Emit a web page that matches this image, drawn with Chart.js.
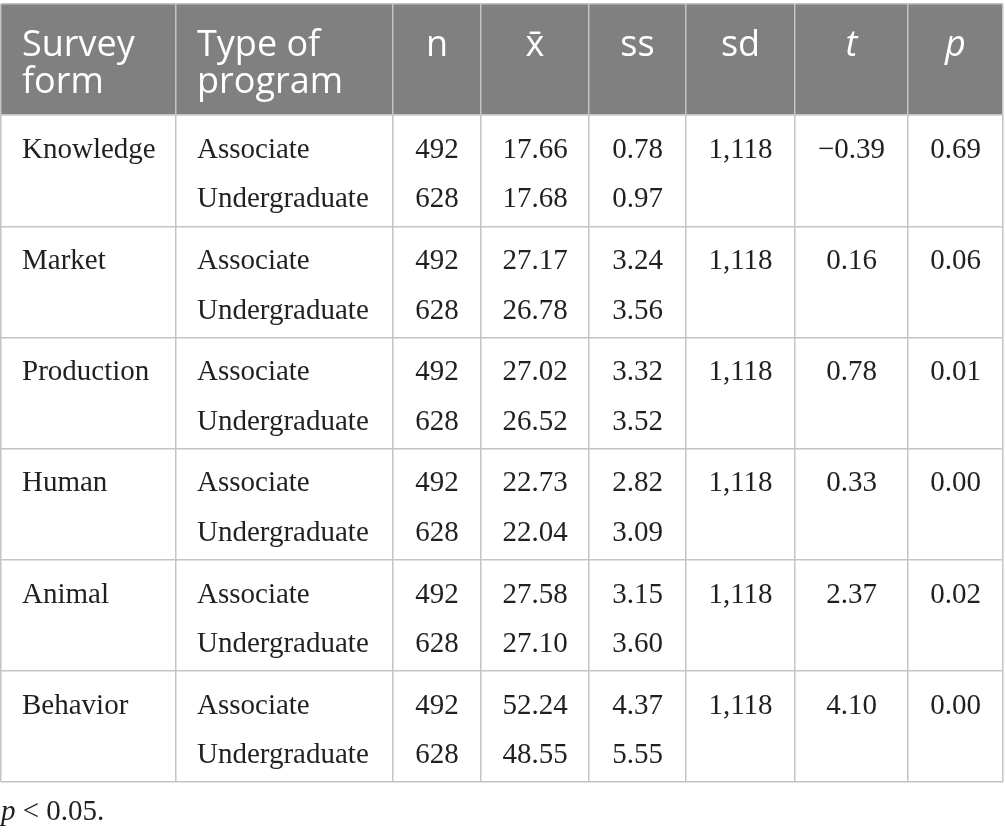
<!DOCTYPE html>
<html>
<head>
    <title>Survey form t-test table</title>
    <script src="https://cdn.jsdelivr.net/npm/chart.js"></script>
    <style>
        html, body { margin: 0; padding: 0; background: #fff; }
    </style>
</head>
<body>
    <div style="width: 1005px; height: 835px;">
        <canvas id="tableChart"></canvas>
    </div>

    <script>
        // table values
        const headers = [['Survey', 'form'], ['Type of', 'program'], ['n'], ['x\u0304'], ['ss'], ['sd'], ['t'], ['p']];
        const forms = ['Knowledge', 'Market', 'Production', 'Human', 'Animal', 'Behavior'];
        const programs = ['Associate', 'Undergraduate'];
        const nValues = [492, 628];
        const meanAssociate = [17.66, 27.17, 27.02, 22.73, 27.58, 52.24];
        const meanUndergrad = [17.68, 26.78, 26.52, 22.04, 27.10, 48.55];
        const ssAssociate = [0.78, 3.24, 3.32, 2.82, 3.15, 4.37];
        const ssUndergrad = [0.97, 3.56, 3.52, 3.09, 3.60, 5.55];
        const sdValues = [1118, 1118, 1118, 1118, 1118, 1118];
        const tValues = [-0.39, 0.16, 0.78, 0.33, 2.37, 4.10];
        const pValues = [0.69, 0.06, 0.01, 0.00, 0.02, 0.00];
        const footnote = '< 0.05.';

        // layout
        const colEdges = [1, 176, 393, 481, 589, 686, 795, 908, 1003];
        const serif = '"Liberation Serif", "DejaVu Serif", serif';
        const sans = '"Open Sans", "Noto Sans", sans-serif';

        const fmt = v => (v < 0 ? '\u2212' : '') + Math.abs(v).toFixed(2);

        const tablePlugin = {
            id: 'tableCells',
            beforeDraw(chart) {
                const { ctx, scales: { x, y } } = chart;
                ctx.save();
                ctx.fillStyle = '#fff';
                ctx.fillRect(0, 0, chart.width, chart.height);
                ctx.fillStyle = '#808080';
                ctx.fillRect(x.getPixelForValue(colEdges[0]), y.getPixelForValue(0),
                    x.getPixelForValue(colEdges[8]) - x.getPixelForValue(colEdges[0]),
                    y.getPixelForValue(1) - y.getPixelForValue(0));
                ctx.restore();
            },
            afterDraw(chart) {
                const { ctx, scales: { x, y } } = chart;
                const left = c => x.getPixelForValue(colEdges[c]) + 21;
                const mid = c => (x.getPixelForValue(colEdges[c]) + x.getPixelForValue(colEdges[c + 1])) / 2;
                ctx.save();
                ctx.textBaseline = 'alphabetic';

                // header
                ctx.fillStyle = '#fff';
                headers.forEach((h, c) => {
                    ctx.font = (c >= 6 ? 'italic ' : '') + '36px ' + sans;
                    h.forEach((line, i) => {
                        const yy = y.getPixelForValue(0.47 + i * 0.335);
                        if (c < 2) {
                            ctx.textAlign = 'left';
                            ctx.fillText(line, left(c), yy);
                        } else {
                            ctx.textAlign = 'center';
                            ctx.fillText(line, mid(c), yy);
                        }
                    });
                });

                // body
                ctx.fillStyle = '#231f20';
                ctx.font = '29px ' + serif;
                forms.forEach((f, r) => {
                    const y1 = y.getPixelForValue(r + 1 + 0.385);
                    const y2 = y.getPixelForValue(r + 1 + 0.83);
                    ctx.textAlign = 'left';
                    ctx.fillText(f, left(0), y1);
                    ctx.fillText(programs[0], left(1), y1);
                    ctx.fillText(programs[1], left(1), y2);
                    ctx.textAlign = 'center';
                    ctx.fillText(String(nValues[0]), mid(2), y1);
                    ctx.fillText(String(nValues[1]), mid(2), y2);
                    ctx.fillText(fmt(meanAssociate[r]), mid(3), y1);
                    ctx.fillText(fmt(meanUndergrad[r]), mid(3), y2);
                    ctx.fillText(fmt(ssAssociate[r]), mid(4), y1);
                    ctx.fillText(fmt(ssUndergrad[r]), mid(4), y2);
                    ctx.fillText(sdValues[r].toLocaleString('en-US'), mid(5), y1);
                    ctx.fillText(fmt(tValues[r]), mid(6), y1);
                    ctx.fillText(fmt(pValues[r]), mid(7), y1);
                });

                // footnote
                ctx.textAlign = 'left';
                ctx.font = 'italic 29px ' + serif;
                ctx.fillText('p', 1, 820);
                const pw = ctx.measureText('p ').width;
                ctx.font = '29px ' + serif;
                ctx.fillText(footnote, 1 + pw, 820);
                ctx.restore();
            }
        };

        const gridStyle = { color: '#c4c4c4', lineWidth: 1.5, drawTicks: false, tickLength: 0 };

        new Chart(document.getElementById('tableChart'), {
            type: 'scatter',
            data: { datasets: [{ data: [], pointRadius: 0 }] },
            options: {
                responsive: true,
                maintainAspectRatio: false,
                devicePixelRatio: 1,
                animation: false,
                layout: { padding: { left: 1, right: 2, top: 4, bottom: 53 } },
                plugins: {
                    legend: { display: false },
                    tooltip: { enabled: false }
                },
                scales: {
                    x: {
                        type: 'linear',
                        min: colEdges[0],
                        max: colEdges[colEdges.length - 1],
                        afterBuildTicks: s => { s.ticks = colEdges.map(v => ({ value: v })); },
                        grid: gridStyle,
                        ticks: { display: false },
                        border: { display: false }
                    },
                    y: {
                        type: 'linear',
                        min: 0,
                        max: forms.length + 1,
                        reverse: true,
                        afterBuildTicks: s => { s.ticks = [0, 1, 2, 3, 4, 5, 6, 7].map(v => ({ value: v })); },
                        grid: gridStyle,
                        ticks: { display: false },
                        border: { display: false }
                    }
                }
            },
            plugins: [tablePlugin]
        });
    </script>
</body>
</html>
